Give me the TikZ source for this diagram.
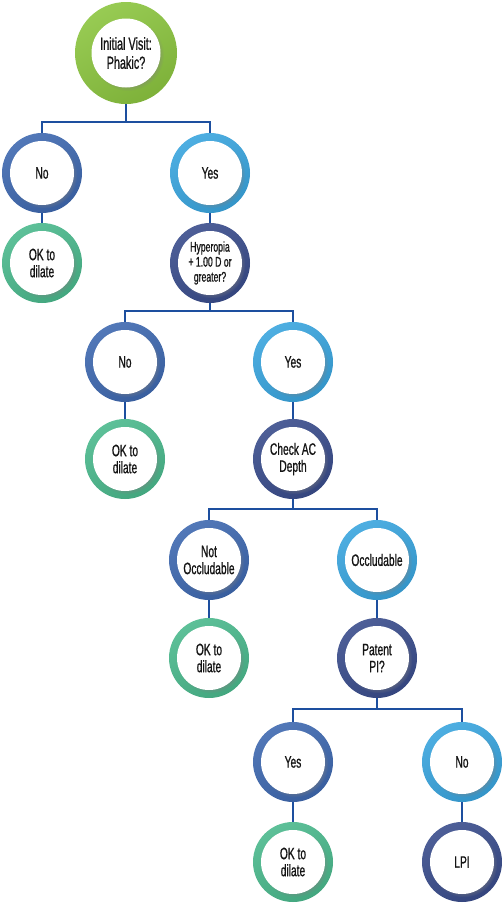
\documentclass[tikz,border=0pt]{standalone}
\usepackage{fontspec}
\setmainfont[FakeStretch=0.62, FakeBold=0.8]{Liberation Sans}
\usetikzlibrary{shadows}
\definecolor{cgreen}{HTML}{8CC540}
\definecolor{cmid}{HTML}{3F69B0}
\definecolor{clight}{HTML}{3AA5DE}
\definecolor{cteal}{HTML}{4BB98D}
\definecolor{cnavy}{HTML}{3A4D8C}
\definecolor{cline}{HTML}{1D4F9F}
\tikzset{
  ring/.style={circle, minimum size=80pt, inner sep=0pt, outer sep=0pt,
    top color=#1!90!white, bottom color=#1!90!black, shading angle=30},
  bigring/.style={ring=#1, minimum size=102pt},
  core/.style={circle, fill=white, minimum size=64pt, inner sep=0pt, align=center,
    font=\fontsize{16.5}{17}\selectfont, text=black!92,
    circular drop shadow={shadow xshift=2pt, shadow yshift=-2pt, opacity=0.45, shadow scale=1.04}},
  bigcore/.style={core, minimum size=69pt, font=\fontsize{17.5}{19}\selectfont},
  smallcore/.style={core, font=\fontsize{14}{15}\selectfont},
  conn/.style={draw=cline, line width=1.6pt},
}
\begin{document}
\begin{tikzpicture}[x=1pt, y=-1pt]
\useasboundingbox (0,0) rectangle (503,903);
\fill[white] (0,0) rectangle (503,903);
% level 0
\node[bigring=cgreen] (root) at (126,53) {};
\node[bigcore] (roott) at (root) {Initial Visit:\\Phakic?};
% level 1
\node[ring=cmid] (n1) at (42,173) {};
\node[core] (n1t) at (n1) {No};
\node[ring=clight] (y1) at (210,173) {};
\node[core] (y1t) at (y1) {Yes};
\node[ring=cteal] (ok1) at (42,263) {};
\node[core] (ok1t) at (ok1) {OK to\\dilate};
\node[ring=cnavy] (hyp) at (210,263) {};
\node[smallcore] (hypt) at (hyp) {Hyperopia\\+ 1.00 D or\\greater?};
% level 2
\node[ring=cmid] (n2) at (125,362) {};
\node[core] (n2t) at (n2) {No};
\node[ring=clight] (y2) at (293,362) {};
\node[core] (y2t) at (y2) {Yes};
\node[ring=cteal] (ok2) at (125,459) {};
\node[core] (ok2t) at (ok2) {OK to\\dilate};
\node[ring=cnavy] (chk) at (293,459) {};
\node[core] (chkt) at (chk) {Check AC\\Depth};
% level 3
\node[ring=cmid] (nocc) at (209,560) {};
\node[core] (nocct) at (nocc) {Not\\Occludable};
\node[ring=clight] (occ) at (377,560) {};
\node[core] (occt) at (occ) {Occludable};
\node[ring=cteal] (ok3) at (209,658) {};
\node[core] (ok3t) at (ok3) {OK to\\dilate};
\node[ring=cnavy] (pat) at (377,658) {};
\node[core] (patt) at (pat) {Patent\\PI?};
% level 4
\node[ring=cmid] (y3) at (293,762) {};
\node[core] (y3t) at (y3) {Yes};
\node[ring=clight] (n3) at (462,762) {};
\node[core] (n3t) at (n3) {No};
\node[ring=cteal] (ok4) at (293,862) {};
\node[core] (ok4t) at (ok4) {OK to\\dilate};
\node[ring=cnavy] (lpi) at (462,862) {};
\node[core] (lpit) at (lpi) {LPI};
% connectors
\coordinate (b1) at (126,122);
\coordinate (b2) at (210,311);
\coordinate (b3) at (293,509);
\coordinate (b4) at (377,709);
\draw[conn] (root.south) -- (b1);
\draw[conn] (b1) -| (n1.north);
\draw[conn] (b1) -| (y1.north);
\draw[conn] (n1.south) -- (ok1.north);
\draw[conn] (y1.south) -- (hyp.north);
\draw[conn] (hyp.south) -- (b2);
\draw[conn] (b2) -| (n2.north);
\draw[conn] (b2) -| (y2.north);
\draw[conn] (n2.south) -- (ok2.north);
\draw[conn] (y2.south) -- (chk.north);
\draw[conn] (chk.south) -- (b3);
\draw[conn] (b3) -| (nocc.north);
\draw[conn] (b3) -| (occ.north);
\draw[conn] (nocc.south) -- (ok3.north);
\draw[conn] (occ.south) -- (pat.north);
\draw[conn] (pat.south) -- (b4);
\draw[conn] (b4) -| (y3.north);
\draw[conn] (b4) -| (n3.north);
\draw[conn] (y3.south) -- (ok4.north);
\draw[conn] (n3.south) -- (lpi.north);
\end{tikzpicture}
\end{document}
